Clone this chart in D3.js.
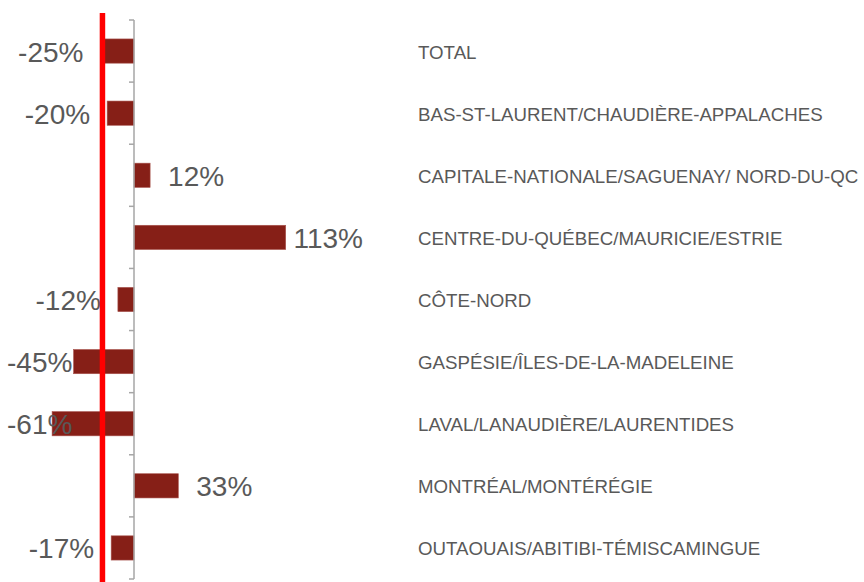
<!DOCTYPE html>
<html><head><meta charset="utf-8">
<script src="https://cdn.jsdelivr.net/npm/d3@7"></script>
<style>body{margin:0;background:#fff}svg{display:block}</style>
</head><body><svg id="c" width="864" height="582"></svg>
<script>
const categories = ["TOTAL","BAS-ST-LAURENT/CHAUDIÈRE-APPALACHES","CAPITALE-NATIONALE/SAGUENAY/ NORD-DU-QC","CENTRE-DU-QUÉBEC/MAURICIE/ESTRIE","CÔTE-NORD","GASPÉSIE/ÎLES-DE-LA-MADELEINE","LAVAL/LANAUDIÈRE/LAURENTIDES","MONTRÉAL/MONTÉRÉGIE","OUTAOUAIS/ABITIBI-TÉMISCAMINGUE"];
const values = [-25,-20,12,113,-12,-45,-61,33,-17];
const refValue = -23.5;

const svg = d3.select("#c");
const x = d3.scaleLinear().domain([0,113]).range([134,285.7]);
const y = d3.scaleBand().domain(categories).range([20,579]).paddingInner(0.61).paddingOuter(0.305);
const barColor = "#861F17";
const textColor = "#595959";

// bars
svg.selectAll("rect.bar").data(values).join("rect")
  .attr("x", d => Math.min(x(d), x(0)))
  .attr("width", d => Math.abs(x(d) - x(0)))
  .attr("y", (d,i) => y(categories[i]))
  .attr("height", y.bandwidth())
  .attr("fill", barColor)
  .attr("stroke", "#a8544e").attr("stroke-width", 0.6);

// axis line & ticks at band boundaries
const bounds = categories.map(c => y(c) - y.step()*y.paddingInner()/2);
bounds.push(579);
bounds[0] = 20;
svg.append("line").attr("x1",x(0)).attr("x2",x(0)).attr("y1",20).attr("y2",579)
  .attr("stroke","#a6a6a6").attr("stroke-width",1.5);
svg.selectAll("line.tick").data(bounds).join("line")
  .attr("x1",x(0)-5).attr("x2",x(0)).attr("y1",d=>d).attr("y2",d=>d)
  .attr("stroke","#a6a6a6").attr("stroke-width",1.5);

// value labels
const fs = 28;
const lab = svg.selectAll("text.val").data(values).join("text")
  .attr("font-family","Liberation Sans, Arial, sans-serif")
  .attr("font-size",fs).attr("fill",textColor)
  .attr("dominant-baseline","central")
  .attr("y",(d,i)=>y(categories[i])+y.bandwidth()/2+1)
  .text(d=>d+"%");
lab.each(function(d){
  const w = this.getComputedTextLength();
  let sx = d<0 ? x(d)-17-w : x(d)+18;
  sx = Math.max(7, Math.min(sx, 363-w));
  d3.select(this).attr("x",sx);
});

// reference red line
svg.append("line").attr("x1",x(refValue)).attr("x2",x(refValue)).attr("y1",13).attr("y2",582)
  .attr("stroke","#ff0000").attr("stroke-width",5.5);

// category labels
svg.selectAll("text.cat").data(categories).join("text")
  .attr("x",418).attr("y",c=>y(c)+y.bandwidth()/2+1)
  .attr("dominant-baseline","central")
  .attr("font-family","Liberation Sans, Arial, sans-serif")
  .attr("font-size",18.7).attr("fill",textColor)
  .text(c=>c);
</script></body></html>
